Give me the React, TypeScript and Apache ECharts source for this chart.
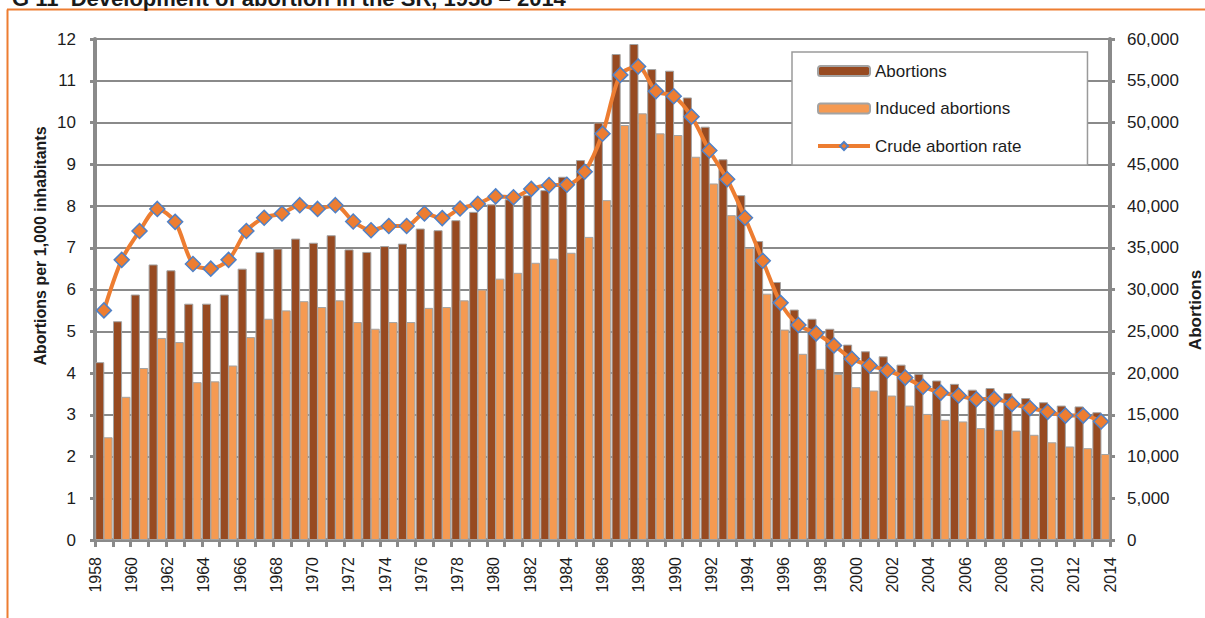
import React, { useEffect, useRef } from "react";
import * as echarts from "echarts";

const years: string[] = [];
for (let y = 1958; y <= 2014; y++) years.push(String(y));

// Crude abortion rate (per 1,000 inhabitants), left axis
const crudeRate = [
  5.5, 6.71, 7.4, 7.93, 7.62, 6.61, 6.5, 6.71, 7.4, 7.72,
  7.82, 8.02, 7.93, 8.02, 7.63, 7.42, 7.52, 7.52, 7.82, 7.71,
  7.94, 8.05, 8.23, 8.21, 8.41, 8.5, 8.51, 8.82, 9.73, 11.14,
  11.34, 10.75, 10.63, 10.14, 9.33, 8.64, 7.72, 6.69, 5.68, 5.15,
  4.95, 4.66, 4.34, 4.18, 4.06, 3.89, 3.67, 3.53, 3.46, 3.37,
  3.38, 3.26, 3.16, 3.07, 2.98, 2.98, 2.84,
];

// Abortions (total), right axis
const abortions = [
  21300, 26200, 29400, 33000, 32300, 28300, 28300, 29400, 32500, 34500,
  34900, 36100, 35600, 36500, 34800, 34500, 35200, 35500, 37300, 37100,
  38300, 39300, 40200, 40800, 41300, 41900, 43500, 45500, 50000, 58200,
  59400, 56400, 56200, 53000, 49500, 45600, 41300, 35800, 30900, 27600,
  26500, 25300, 23400, 22600, 22000, 21000, 19900, 19100, 18700, 18000,
  18200, 17600, 17000, 16500, 16100, 16000, 15300,
];

// Induced abortions, right axis
const induced = [
  12300, 17150, 20600, 24200, 23700, 18900, 19000, 20900, 24300, 26500,
  27500, 28600, 27900, 28700, 26100, 25300, 26100, 26100, 27800, 27900,
  28700, 30000, 31300, 32000, 33200, 33700, 34400, 36300, 40700, 49700,
  51100, 48700, 48500, 45900, 42700, 38900, 35000, 29500, 25200, 22300,
  20500, 19900, 18300, 17900, 17300, 16100, 15100, 14400, 14200, 13400,
  13200, 13100, 12600, 11700, 11200, 11000, 10300,
];

const seriesNames = ["Abortions", "Induced abortions", "Crude abortion rate"];
const leftAxisName = "Abortions per 1,000 inhabitants";
const rightAxisName = "Abortions";
const titleText = "G 11  Development of abortion in the SR, 1958 – 2014";

export default function App() {
  const ref = useRef<HTMLDivElement>(null);

  useEffect(() => {
    if (!ref.current) return;
    const FONT = "'Liberation Sans', Arial, sans-serif";
    const fs = 17;
    const fsX = 16;

    const gray = "#8a8a8a";
    const textColor = "#1c1c1c";
    const dark = "#974a21";
    const light = "#f59a52";
    const orange = "#ed7d31";

    const chart = echarts.init(ref.current, undefined, { renderer: "svg" });
    chart.setOption({
      animation: false,
      textStyle: { fontFamily: FONT },
      grid: { left: 95, right: 95, top: 39, height: 501 },
      legend: {
        orient: "vertical",
        left: 792,
        top: 52,
        itemWidth: 52,
        itemHeight: 10,
        itemGap: 20.5,
        padding: [10.5, 66, 10.5, 24],
        borderColor: "#9a9a9a",
        borderWidth: 1.5,
        backgroundColor: "#ffffff",
        textStyle: { fontFamily: FONT, fontSize: fs, color: textColor },
        data: [
          { name: seriesNames[0] },
          { name: seriesNames[1] },
          { name: seriesNames[2], lineStyle: { width: 4 } },
        ],
      },
      xAxis: [
        {
          type: "category",
          data: years,
          boundaryGap: true,
          position: "bottom",
          axisLine: { show: true, lineStyle: { color: gray, width: 4 } },
          axisTick: {
            show: true,
            interval: 0,
            length: 7,
            lineStyle: { color: gray, width: 3 },
          },
          axisLabel: { show: false },
          splitLine: { show: false },
        },
        {
          type: "category",
          data: years,
          boundaryGap: false,
          position: "bottom",
          offset: 0,
          axisLine: { show: false },
          axisTick: { show: false },
          axisLabel: {
            show: true,
            interval: 1,
            rotate: 90,
            margin: 17,
            fontFamily: FONT,
            fontSize: fsX,
            color: textColor,
          },
          splitLine: { show: false },
        },
      ],
      yAxis: [
        {
          type: "value",
          position: "left",
          min: 0,
          max: 12,
          interval: 1,
          axisLine: { show: true, lineStyle: { color: gray, width: 4 } },
          axisTick: { show: true, length: 5, lineStyle: { color: gray, width: 3 } },
          axisLabel: { margin: 19, fontFamily: FONT, fontSize: fs, color: textColor },
          splitLine: { show: true, lineStyle: { color: gray, width: 2 } },
        },
        {
          type: "value",
          position: "right",
          min: 0,
          max: 60000,
          interval: 5000,
          axisLine: { show: true, lineStyle: { color: gray, width: 4 } },
          axisTick: { show: true, length: 5, lineStyle: { color: gray, width: 3 } },
          axisLabel: {
            margin: 17,
            fontFamily: FONT,
            fontSize: fs,
            color: textColor,
            formatter: (v: number) => v.toLocaleString("en-US"),
          },
          splitLine: { show: false },
        },
      ],
      series: [
        {
          name: seriesNames[0],
          type: "bar",
          xAxisIndex: 0,
          yAxisIndex: 1,
          data: abortions,
          barGap: "-8%",
          barCategoryGap: "2%",
          itemStyle: { color: dark, borderColor: "#a3a3a3", borderWidth: 1 },
          z: 2,
        },
        {
          name: seriesNames[1],
          type: "bar",
          xAxisIndex: 0,
          yAxisIndex: 1,
          data: induced,
          barGap: "-8%",
          barCategoryGap: "2%",
          itemStyle: { color: light, borderColor: "#a3a3a3", borderWidth: 1 },
          z: 2,
        },
        {
          name: seriesNames[2],
          type: "line",
          xAxisIndex: 0,
          yAxisIndex: 0,
          data: crudeRate,
          smooth: 0.3,
          showSymbol: true,
          showAllSymbol: true,
          symbol: "diamond",
          symbolSize: 15,
          lineStyle: { color: orange, width: 4 },
          itemStyle: { color: orange, borderColor: "#4f81c7", borderWidth: 1.5 },
          z: 5,
        },
      ],
      graphic: [
        {
          type: "line",
          shape: { x1: 7, y1: 9.5, x2: 1205, y2: 9.5 },
          style: { stroke: orange, lineWidth: 2 },
          silent: true,
        },
        {
          type: "line",
          shape: { x1: 7.5, y1: 9.5, x2: 7.5, y2: 618 },
          style: { stroke: orange, lineWidth: 2 },
          silent: true,
        },
        {
          type: "text",
          x: 12,
          y: 9,
          style: {
            text: titleText,
            fontFamily: FONT,
            fontSize: 22,
            fontWeight: "bold",
            fill: "#1a1a1a",
            textAlign: "left",
            textVerticalAlign: "bottom",
          },
          silent: true,
        },
        {
          type: "text",
          x: 40,
          y: 246,
          rotation: Math.PI / 2,
          style: {
            text: leftAxisName,
            fontFamily: FONT,
            fontSize: 16,
            fontWeight: "bold",
            fill: textColor,
            textAlign: "center",
            textVerticalAlign: "middle",
          },
          silent: true,
        },
        {
          type: "text",
          x: 1195,
          y: 310,
          rotation: Math.PI / 2,
          style: {
            text: rightAxisName,
            fontFamily: FONT,
            fontSize: 17,
            fontWeight: "bold",
            fill: textColor,
            textAlign: "center",
            textVerticalAlign: "middle",
          },
          silent: true,
        },
      ],
    });

    return () => {
      chart.dispose();
    };
  }, []);

  return (
    <div
      ref={ref}
      style={{ position: "absolute", left: 0, top: 0, width: 1205, height: 618, background: "#fff" }}
    />
  );
}
